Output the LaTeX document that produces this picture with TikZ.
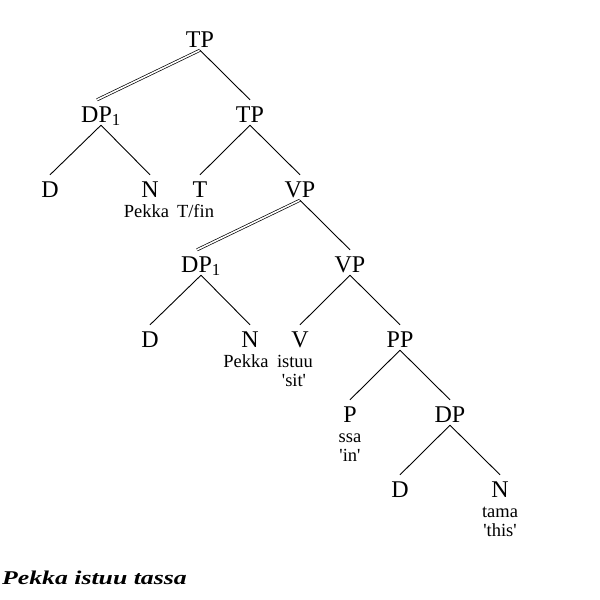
\documentclass[tikz,border=0pt]{standalone}
\usepackage{fontspec}
\setmainfont{Liberation Serif}
\begin{document}
\begin{tikzpicture}[x=1pt,y=-1pt,
  cat/.style={inner sep=0pt, font=\fontsize{24}{24}\selectfont, text height=22pt, text depth=3pt, anchor=base},
  gl/.style={inner sep=0pt, font=\fontsize{18.5}{19.5}\selectfont, anchor=base},
  br/.style={line width=0.9pt},
  dbl/.style={double, line width=0.7pt, double distance=1.6pt}]
\useasboundingbox (0,0) rectangle (600,600);
% level baselines: 47,122,197,272,347,422,497
\node[cat] (TP)  at (200,47) {TP};
\node[cat] (DPa) at (101,122) {DP\textsubscript{1}};
\node[cat] (TPb) at (250,122) {TP};
\node[cat] (Da)  at (50,197) {D};
\node[cat] (Na)  at (150,197) {N};
\node[cat] (T)   at (200,197) {T};
\node[cat] (VPa) at (300,197) {VP};
\node[cat] (DPb) at (201,272) {DP\textsubscript{1}};
\node[cat] (VPb) at (350,272) {VP};
\node[cat] (Db)  at (150,347) {D};
\node[cat] (Nb)  at (250,347) {N};
\node[cat] (V)   at (300,347) {V};
\node[cat] (PP)  at (400,347) {PP};
\node[cat] (P)   at (350,422) {P};
\node[cat] (DPc) at (450,422) {DP};
\node[cat] (Dc)  at (400,497) {D};
\node[cat] (Nc)  at (500,497) {N};
% glosses
\node[gl] (gNa) at (146.5,217) {Pekka};
\node[gl] (gT)  at (195.5,217) {T/fin};
\node[gl] (gNb) at (246,367) {Pekka};
\node[gl] (gV)  at (295,367) {istuu};
\node[gl] (gVt) at (294,386.5) {\textquotesingle sit\textquotesingle};
\node[gl] (gP)  at (350,442) {ssa};
\node[gl] (gPt) at (350,461.5) {\textquotesingle in\textquotesingle};
\node[gl] (gNc) at (500,517) {tama};
\node[gl] (gNct) at (500,536.5) {\textquotesingle this\textquotesingle};
% branches
\draw[dbl] (TP.south) -- ([xshift=-4pt]DPa.north);
\draw[br] (TP.south) -- (TPb.north);
\draw[br] (DPa.south) -- (Da.north);
\draw[br] (DPa.south) -- (Na.north);
\draw[br] (TPb.south) -- (T.north);
\draw[br] (TPb.south) -- (VPa.north);
\draw[dbl] (VPa.south) -- ([xshift=-4pt]DPb.north);
\draw[br] (VPa.south) -- (VPb.north);
\draw[br] (DPb.south) -- (Db.north);
\draw[br] (DPb.south) -- (Nb.north);
\draw[br] (VPb.south) -- (V.north);
\draw[br] (VPb.south) -- (PP.north);
\draw[br] (PP.south) -- (P.north);
\draw[br] (PP.south) -- (DPc.north);
\draw[br] (DPc.south) -- (Dc.north);
\draw[br] (DPc.south) -- (Nc.north);
% caption
\node[inner sep=0pt, anchor=base west, font=\fontsize{19.5}{19.5}\selectfont\bfseries\itshape] (cap) at (2,584) {\scalebox{1.32}[1]{Pekka istuu tassa}};
\end{tikzpicture}
\end{document}
